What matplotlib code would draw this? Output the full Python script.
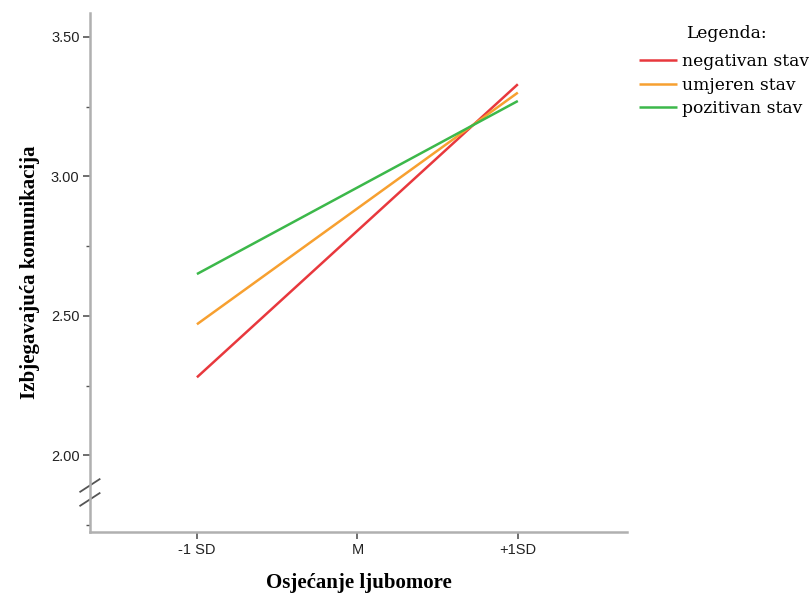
import matplotlib
matplotlib.use("Agg")
import matplotlib.pyplot as plt
import matplotlib.transforms as mtransforms

# data
xlabels = ["-1 SD", "M", "+1SD"]
xpos = [0, 2]  # lines go from -1 SD to +1SD
negativan = [2.28, 3.33]
umjeren = [2.47, 3.30]
pozitivan = [2.65, 3.27]
series_names = ["negativan stav", "umjeren stav", "pozitivan stav"]
colors = ["#e8383d", "#f7a030", "#3cb84a"]

fig = plt.figure(figsize=(8.1, 5.94), dpi=100)
ax = fig.add_axes([0.111, 0.104, 0.663, 0.874])

for vals, name, c in zip([negativan, umjeren, pozitivan], series_names, colors):
    ax.plot(xpos, vals, color=c, lw=1.8, label=name, solid_capstyle="butt")

ax.set_xlim(-0.667, 2.68)
ax.set_ylim(1.725, 3.585)
ax.set_xticks([0, 1, 2])
ax.set_xticklabels(xlabels)
ax.set_yticks([2.0, 2.5, 3.0, 3.5])
ax.set_yticklabels(["2.00", "2.50", "3.00", "3.50"])
ax.set_yticks([1.75, 2.25, 2.75, 3.25], minor=True)

for s in ["top", "right"]:
    ax.spines[s].set_visible(False)
for s in ["left", "bottom"]:
    ax.spines[s].set_color("#b0b0b0")
    ax.spines[s].set_linewidth(1.8)

ax.tick_params(axis="both", which="major", color="#555555", length=5, width=1.2,
               labelsize=10.5, labelcolor="#222222", pad=2.5)
ax.tick_params(axis="y", which="minor", color="#555555", length=3, width=1.0)
for lab in ax.get_xticklabels() + ax.get_yticklabels():
    lab.set_family("Liberation Sans")

ax.set_xlabel("Osjećanje ljubomore", family="Liberation Serif", fontweight="bold",
              fontsize=15, labelpad=12)
ax.set_ylabel("Izbjegavajuća komunikacija", family="Liberation Serif", fontweight="bold",
              fontsize=15, labelpad=8)

# axis break marks
trans = mtransforms.blended_transform_factory(ax.transAxes, ax.transData)
for y0 in [1.82, 1.87]:
    ax.plot([-0.018, 0.018], [y0, y0 + 0.045], color="#555555", lw=1.3,
            transform=trans, clip_on=False)

leg = ax.legend(loc="upper left", bbox_to_anchor=(0.770, 0.936),
                bbox_transform=fig.transFigure, frameon=False,
                prop={"family": "DejaVu Serif", "size": 12.3},
                handlelength=2.2, handletextpad=0.3, labelspacing=0.37)
fig.text(726 / 810, 1 - 33 / 594, "Legenda:", family="DejaVu Serif", fontsize=12.3,
         ha="center", va="center")

fig.savefig("out.png", dpi=100)
